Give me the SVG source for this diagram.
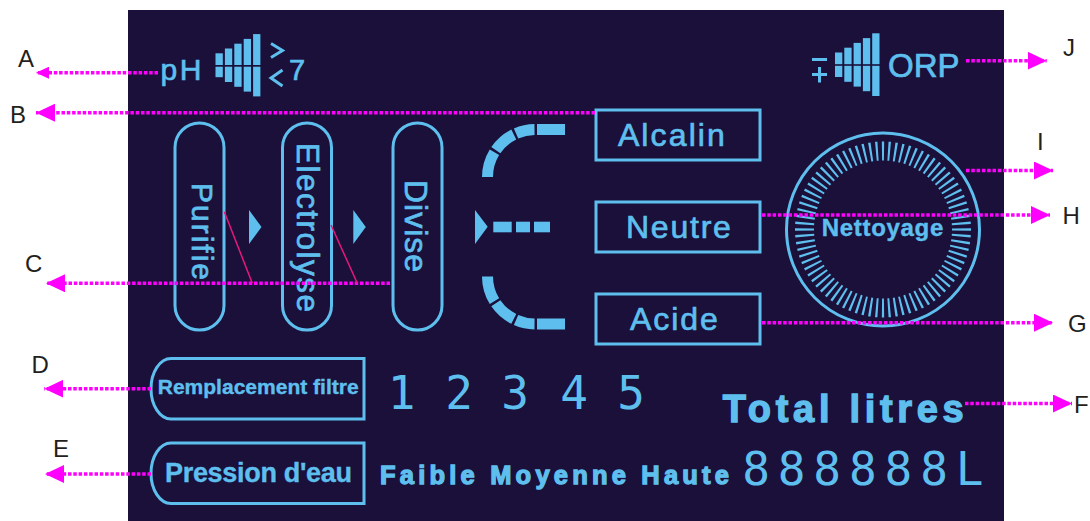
<svg xmlns="http://www.w3.org/2000/svg" width="1090" height="521" viewBox="0 0 1090 521">
<defs>
<style>
.lb{fill:#5ebfee}
.ls{fill:none;stroke:#5ebfee;stroke-width:3}
.t{font-family:"Liberation Sans",Arial,sans-serif;fill:#5ebfee;stroke:#5ebfee;stroke-width:0.7}
.b{font-weight:bold;stroke-width:0.4}
.hv{font-weight:bold;stroke-width:1.3}
.lab{font-family:"Liberation Sans",Arial,sans-serif;font-size:24px;fill:#231f20}
.cn{fill:none;stroke:#ff00ff;stroke-width:3.5;stroke-dasharray:3.5 1.8}
.pk{stroke:#e8177d;stroke-width:1.5;fill:none}
.seg{font-family:"DejaVu Sans Mono",monospace;font-size:46px;fill:#5ebfee;text-anchor:middle}
</style>
<marker id="ah" viewBox="0 0 19 18" refX="19" refY="9" markerWidth="19" markerHeight="18" markerUnits="userSpaceOnUse" orient="auto"><path d="M0,0 L19,9 L0,18 z" fill="#ff00ff"/></marker>
<marker id="ahs" viewBox="0 0 13 12" refX="13" refY="6" markerWidth="13" markerHeight="12" markerUnits="userSpaceOnUse" orient="auto"><path d="M0,0 L13,6 L0,12 z" fill="#ff00ff"/></marker>
</defs>
<rect x="0" y="0" width="1090" height="521" fill="#ffffff"/>
<rect x="128" y="10" width="876" height="511" fill="#1a1039"/>

<g id="ph">
<text class="t" x="160.5" y="80" font-size="30" textLength="41">pH</text>
<rect class="lb" x="215.5" y="53.3" width="7.3" height="11.7"/><rect class="lb" x="215.5" y="66.7" width="7.3" height="10.5"/>
<rect class="lb" x="224.9" y="48.5" width="7.3" height="16.5"/><rect class="lb" x="224.9" y="66.7" width="7.3" height="15.3"/>
<rect class="lb" x="234.3" y="43.7" width="7.3" height="21.3"/><rect class="lb" x="234.3" y="66.7" width="7.3" height="20.1"/>
<rect class="lb" x="243.7" y="38.9" width="7.3" height="26.1"/><rect class="lb" x="243.7" y="66.7" width="7.3" height="24.9"/>
<rect class="lb" x="253.1" y="34.1" width="7.3" height="30.9"/><rect class="lb" x="253.1" y="66.7" width="7.3" height="29.7"/>
<polyline class="ls" stroke-width="2.5" points="271,43.5 282.5,50.5 271,57.5"/>
<polyline class="ls" stroke-width="2.5" points="282.5,70 271,78 282.5,86"/>
<text class="t" x="289" y="80" font-size="29">7</text>
</g>

<g id="orp">
<line class="ls" stroke-width="2.5" x1="812" y1="59.5" x2="827" y2="59.5"/>
<line class="ls" stroke-width="2.5" x1="812" y1="74.5" x2="827" y2="74.5"/>
<line class="ls" stroke-width="2.5" x1="819.5" y1="67" x2="819.5" y2="82.5"/>
<rect class="lb" x="835" y="52.5" width="7.3" height="11.7"/><rect class="lb" x="835" y="65.8" width="7.3" height="11.2"/>
<rect class="lb" x="844.3" y="47.7" width="7.3" height="16.5"/><rect class="lb" x="844.3" y="65.8" width="7.3" height="16"/>
<rect class="lb" x="853.6" y="42.9" width="7.3" height="21.3"/><rect class="lb" x="853.6" y="65.8" width="7.3" height="20.8"/>
<rect class="lb" x="862.9" y="38.1" width="7.3" height="26.1"/><rect class="lb" x="862.9" y="65.8" width="7.3" height="25.4"/>
<rect class="lb" x="872.2" y="33.3" width="7.3" height="30.9"/><rect class="lb" x="872.2" y="65.8" width="7.3" height="30.2"/>
<text class="t" x="888" y="77.3" font-size="33">ORP</text>
</g>

<g id="purifie">
<rect class="ls" x="175" y="123" width="49" height="207" rx="24.5"/>
<text class="t" font-size="30" text-anchor="middle" textLength="97" transform="translate(191.7,231.5) rotate(90)">Purifie</text>
</g>
<g id="electrolyse">
<rect class="ls" x="282.5" y="123" width="49" height="207" rx="24.5"/>
<text class="t" font-size="31.5" text-anchor="middle" textLength="169" transform="translate(296.7,227.5) rotate(90)">Electrolyse</text>
</g>
<g id="divise">
<rect class="ls" x="393" y="123" width="49" height="207" rx="24.5"/>
<text class="t" font-size="32" text-anchor="middle" textLength="92" transform="translate(405,226) rotate(90)">Divise</text>
</g>
<g id="steps-arrows">
<polygon class="lb" points="249,210 249,244 261.5,227"/>
<polygon class="lb" points="353.3,210 353.3,244 365.8,227"/>
</g>

<g id="selector">
<path d="M487.5,177 A47.5,47.5 0 0 1 535,129.5 L565,129.5" fill="none" stroke="#5ebfee" stroke-width="11" stroke-dasharray="26 2.5 24 2.5 19 2.5 40"/>
<g transform="matrix(1,0,0,-1,0,453.4)"><path d="M487.5,177 A47.5,47.5 0 0 1 535,129.5 L565,129.5" fill="none" stroke="#5ebfee" stroke-width="11" stroke-dasharray="26 2.5 24 2.5 19 2.5 40"/></g>
<polygon class="lb" points="475,210 475,244 487.7,226.7"/>
<rect class="lb" x="493.3" y="221.7" width="18.4" height="10.6"/>
<rect class="lb" x="516" y="221.7" width="14" height="10.6"/>
<rect class="lb" x="534" y="221.7" width="16" height="10.6"/>
</g>

<g id="alcalin">
<rect class="ls" x="596" y="110" width="164" height="50"/>
<text class="t" x="671.4" y="146" font-size="32" text-anchor="middle" textLength="107">Alcalin</text>
</g>
<g id="neutre">
<rect class="ls" x="596" y="202" width="164" height="50"/>
<text class="t" x="678.4" y="238" font-size="32" text-anchor="middle" textLength="105">Neutre</text>
</g>
<g id="acide">
<rect class="ls" x="596" y="294" width="164" height="50"/>
<text class="t" x="673.9" y="330" font-size="32" text-anchor="middle" textLength="88">Acide</text>
</g>

<g id="nettoyage">
<circle cx="883" cy="229.5" r="96.5" fill="none" stroke="#5ebfee" stroke-width="3"/>
<circle cx="883" cy="229.5" r="78.5" fill="none" stroke="#5ebfee" stroke-width="19" pathLength="80" stroke-dasharray="0.35 0.65" stroke-dashoffset="0.175"/>
<text class="t b" x="882.5" y="236" font-size="24" text-anchor="middle" textLength="121.6">Nettoyage</text>
</g>

<g id="filtre">
<path class="ls" d="M364,358.5 L171,358.5 A20,30.25 0 0 0 151,388.75 A20,30.25 0 0 0 171,419 L364,419 Z"/>
<text class="t b" x="157.7" y="394" font-size="21" textLength="201">Remplacement filtre</text>
</g>
<g id="pression">
<path class="ls" d="M364,443 L171,443 A20,30.25 0 0 0 151,473.25 A20,30.25 0 0 0 171,503.5 L364,503.5 Z"/>
<text class="t b" x="165" y="481.7" font-size="27" textLength="187">Pression d'eau</text>
</g>

<g id="digits">
<text class="seg" x="401.7 459 515 574 631" y="409.3">12345</text>
</g>
<g id="levels">
<text class="t hv" x="380" y="484" font-size="25.5" textLength="349">Faible Moyenne Haute</text>
</g>
<g id="total">
<text class="t hv" x="722.7" y="421.7" font-size="38" textLength="241">Total litres</text>
<text class="seg" x="756 791.6 827.2 862.8 898.4 934 969.6" y="485">888888L</text>
</g>

<g id="connectors">
<line class="cn" x1="158" y1="72.7" x2="36" y2="72.7" marker-end="url(#ahs)"/>
<line class="cn" x1="595" y1="112.7" x2="36" y2="112.7" marker-end="url(#ah)"/>
<line class="cn" x1="390" y1="283.3" x2="46" y2="283.3" marker-end="url(#ah)"/>
<line class="cn" x1="151" y1="388.7" x2="44.3" y2="388.7" marker-end="url(#ah)"/>
<line class="cn" x1="151" y1="474" x2="45" y2="474" marker-end="url(#ah)"/>
<line class="cn" x1="965" y1="403.5" x2="1072" y2="403.5" marker-end="url(#ah)"/>
<line class="cn" x1="762" y1="322.7" x2="1053" y2="322.7" marker-end="url(#ah)"/>
<line class="cn" x1="762" y1="215" x2="1050" y2="215" marker-end="url(#ah)"/>
<line class="cn" x1="966" y1="170.5" x2="1053" y2="170.5" marker-end="url(#ah)"/>
<line class="cn" x1="966" y1="60.7" x2="1046.7" y2="60.7" marker-end="url(#ah)"/>
<line class="pk" x1="224.3" y1="211.7" x2="252.3" y2="283.3"/>
<line class="pk" x1="331" y1="225" x2="357.3" y2="283.3"/>
</g>

<g id="labels">
<text class="lab" x="18" y="67">A</text>
<text class="lab" x="10" y="122.5">B</text>
<text class="lab" x="25" y="272">C</text>
<text class="lab" x="31.5" y="373">D</text>
<text class="lab" x="53" y="456.5">E</text>
<text class="lab" x="1074" y="413">F</text>
<text class="lab" x="1068" y="332">G</text>
<text class="lab" x="1062.5" y="224">H</text>
<text class="lab" x="1037" y="150">I</text>
<text class="lab" x="1063" y="56">J</text>
</g>
</svg>
